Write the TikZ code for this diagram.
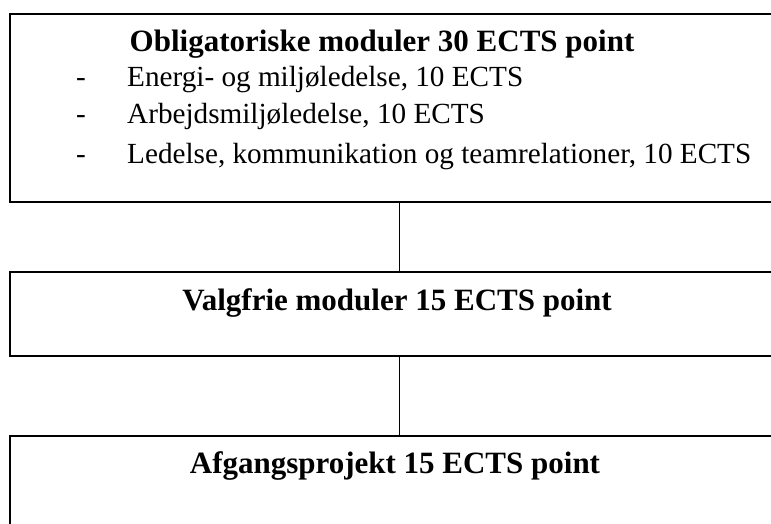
\documentclass[tikz,border=0pt]{standalone}
\usepackage{fontspec}
\setmainfont{Liberation Serif}
\begin{document}
\begin{tikzpicture}[x=1pt,y=-1pt,
  box/.style={draw=black,line width=2pt,rectangle,anchor=north west,minimum width=779pt,inner sep=0pt},
  conn/.style={draw=black,line width=1.4pt},
  txt/.style={anchor=base west,inner sep=0pt,font=\fontsize{29.2}{34}\selectfont},
  btxt/.style={anchor=base,inner sep=0pt,font=\fontsize{31}{36}\selectfont\bfseries},
  dashmark/.style={anchor=base,inner sep=0pt,font=\fontsize{29.2}{34}\selectfont}]
\useasboundingbox (0,0) rectangle (771,524);
\clip (0,0) rectangle (771,524);
\node[box,minimum height=188pt] (top) at (9,13) {};
\node[box,minimum height=84pt] (mid) at (9,271) {};
\node[box,minimum height=120pt] (bot) at (9,435) {};
\draw[conn] (top.south) -- (mid.north);
\draw[conn] (mid.south) -- (bot.north);
\node[btxt] (t1) at (382,52) {Obligatoriske moduler 30 ECTS point};
\node[dashmark] (d1) at (81,87) {-};
\node[dashmark] (d2) at (81,124) {-};
\node[dashmark] (d3) at (81,164) {-};
\node[txt] (l1) at (127,87) {Energi- og miljøledelse, 10 ECTS};
\node[txt] (l2) at (127,124) {Arbejdsmiljøledelse, 10 ECTS};
\node[txt] (l3) at (127,164) {Ledelse, kommunikation og teamrelationer, 10 ECTS};
\node[btxt] (t2) at (397,310) {Valgfrie moduler 15 ECTS point};
\node[btxt] (t3) at (395,473) {Afgangsprojekt 15 ECTS point};
\end{tikzpicture}
\end{document}
